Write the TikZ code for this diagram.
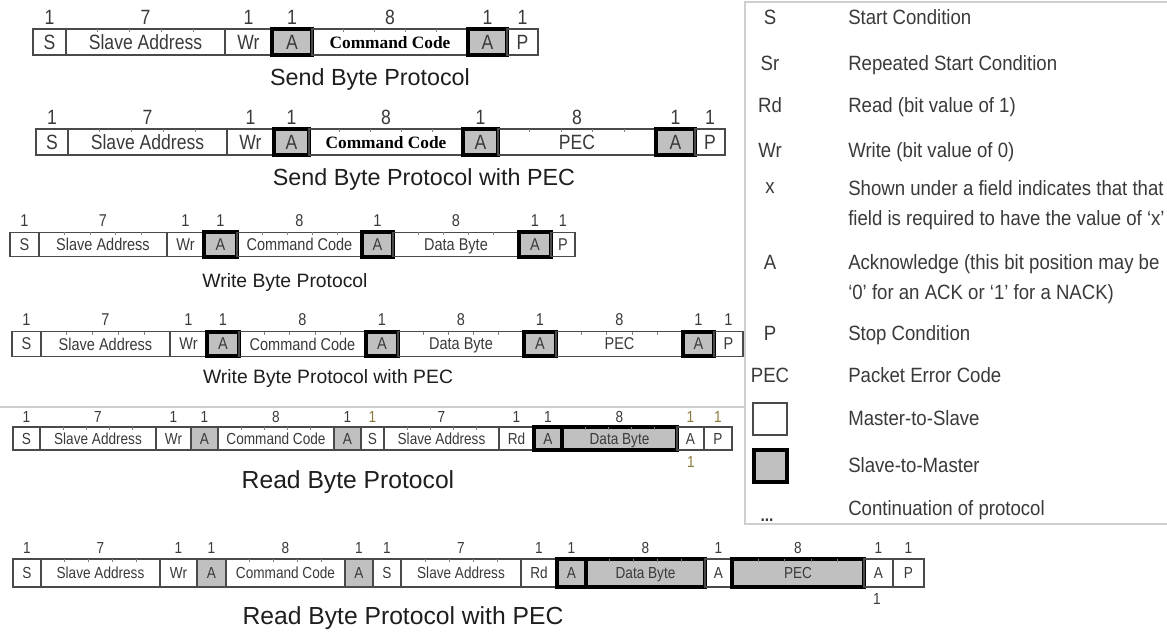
\documentclass[tikz,border=0pt]{standalone}
\usepackage{fontspec}
\setmainfont{Liberation Serif}
\setsansfont{Liberation Sans}
\newfontfamily\narrowsf[FakeStretch=0.85]{Liberation Sans}
\newfontfamily\legendsf[FakeStretch=0.9]{Liberation Sans}
\usepackage{tikz}
\usetikzlibrary{fit}
\definecolor{rule}{HTML}{4A4A4A}
\definecolor{inkdark}{HTML}{3A3A3A}
\definecolor{titleink}{HTML}{1E1E1E}
\definecolor{cellgray}{HTML}{C0C0C0}
\definecolor{olivenum}{HTML}{8C7A3C}
\definecolor{framegray}{HTML}{CFCFCF}
\newcommand\cellbig{\narrowsf\fontsize{15.5}{18}\selectfont}
\newcommand\cellmid{\narrowsf\fontsize{12.8}{15}\selectfont}
\newcommand\cellsmall{\narrowsf\fontsize{12}{14}\selectfont}
\tikzset{
  cell/.style={draw=rule, line width=0.9pt, inner sep=0pt, text=inkdark, text depth=0pt},
  ackcell/.style={cell, fill=cellgray, draw=black, line width=2.7pt},
  shadecell/.style={cell, fill=cellgray},
  cmdcell/.style={cell, text=black, font=\rmfamily\bfseries\fontsize{13}{15}\selectfont},
  numlbl/.style={inner sep=0pt, text=inkdark, text depth=0pt},
  tickmark/.style={draw=rule!70, line width=0.5pt},
  rowtitle/.style={inner sep=0pt, text=titleink, text depth=0pt,
    font=\sffamily\fontsize{#1}{#1}\selectfont},
  legsym/.style={inner sep=0pt, text=inkdark, text depth=0pt,
    font=\legendsf\fontsize{15.5}{18}\selectfont},
  legtext/.style={legsym, anchor=west},
  keyms/.style={draw=rule, line width=1.3pt, inner sep=0pt},
  keysm/.style={draw=black, fill=cellgray, line width=2.8pt, inner sep=0pt},
}
\begin{document}
\begin{tikzpicture}[x=0.75pt, y=-0.75pt]
  \useasboundingbox (0,0) rectangle (1167,635);
  \fill[white] (0,0) rectangle (1167,635);
  \draw[framegray, line width=0.8pt] (0,407) -- (745,407);
  \draw[framegray, line width=0.8pt] (1167,2) -- (745,2) -- (745,524) -- (1167,524);

  \begin{scope}[nodes={font=\cellbig, minimum height=19.5pt}]
  \foreach \xa/\xb/\txt/\nb/\sty [count=\i] in {33/66/S/1/cell, 66/225/Slave Address/7/cell,
      225/272/Wr/1/cell, 272/312/A/1/ackcell, 312/468/Command Code/8/cmdcell,
      468/507/A/1/ackcell, 507/538/P/1/cell}{
    \pgfmathsetmacro\cw{(\xb-\xa)*0.75}
    \node[\sty, minimum width=\cw pt] (sb\i) at ({(\xa+\xb)/2},42) {\txt};
    \node[numlbl, minimum height=0pt] (sbn\i) at ({(\xa+\xb)/2},17) {\nb};
    \ifnum\nb>1 \foreach \k in {1,...,4} \draw[tickmark] ({\xa+\k*(\xb-\xa)/5},29) -- ++(0,3); \fi
  }
  \node[rowtitle=17.5, minimum height=0pt] (sbt) at (370,77) {Send Byte Protocol};

  \foreach \xa/\xb/\txt/\nb/\sty [count=\i] in {36/68/S/1/cell, 68/227/Slave Address/7/cell,
      227/274/Wr/1/cell, 274/309/A/1/ackcell, 309/463/Command Code/8/cmdcell,
      463/498/A/1/ackcell, 498/656/PEC/8/cell, 656/695/A/1/ackcell, 695/725/P/1/cell}{
    \pgfmathsetmacro\cw{(\xb-\xa)*0.75}
    \node[\sty, minimum width=\cw pt] (sbp\i) at ({(\xa+\xb)/2},142) {\txt};
    \node[numlbl, minimum height=0pt] (sbpn\i) at ({(\xa+\xb)/2},117) {\nb};
    \ifnum\nb>1 \foreach \k in {1,...,4} \draw[tickmark] ({\xa+\k*(\xb-\xa)/5},129) -- ++(0,3); \fi
  }
  \node[rowtitle=17.5, minimum height=0pt] (sbpt) at (424,177) {Send Byte Protocol with PEC};
  \end{scope}

  \begin{scope}[nodes={font=\cellmid, minimum height=18.4pt}]
  \foreach \xa/\xb/\txt/\nb/\sty [count=\i] in {10/39/S/1/cell, 39/167/Slave Address/7/cell,
      167/204/Wr/1/cell, 204/237/A/1/ackcell, 237/362/Command Code/8/cell,
      362/393/A/1/ackcell, 393/519/Data Byte/8/cell, 519/551/A/1/ackcell, 551/575/P/1/cell}{
    \pgfmathsetmacro\cw{(\xb-\xa)*0.75}
    \node[\sty, minimum width=\cw pt] (wb\i) at ({(\xa+\xb)/2},244.5) {\txt};
    \node[numlbl, minimum height=0pt] (wbn\i) at ({(\xa+\xb)/2},221) {\nb};
    \ifnum\nb>1 \foreach \k in {1,...,4} \draw[tickmark] ({\xa+\k*(\xb-\xa)/5},232) -- ++(0,3); \fi
  }
  \node[rowtitle=14.5, minimum height=0pt] (wbt) at (285,280) {Write Byte Protocol};

  \foreach \xa/\xb/\txt/\nb/\sty [count=\i] in {12/41/S/1/cell, 41/170/Slave Address/7/cell,
      170/207/Wr/1/cell, 207/239/A/1/ackcell, 239/366/Command Code/8/cell,
      366/398/A/1/ackcell, 398/524/Data Byte/8/cell, 524/556/A/1/ackcell,
      556/683/PEC/8/cell, 683/714/A/1/ackcell, 714/743/P/1/cell}{
    \pgfmathsetmacro\cw{(\xb-\xa)*0.75}
    \node[\sty, minimum width=\cw pt] (wbp\i) at ({(\xa+\xb)/2},344) {\txt};
    \node[numlbl, minimum height=0pt] (wbpn\i) at ({(\xa+\xb)/2},320) {\nb};
    \ifnum\nb>1 \foreach \k in {1,...,4} \draw[tickmark] ({\xa+\k*(\xb-\xa)/5},332) -- ++(0,3); \fi
  }
  \node[rowtitle=14.5, minimum height=0pt] (wbpt) at (328,376) {Write Byte Protocol with PEC};
  \end{scope}

  \begin{scope}[nodes={font=\cellsmall, minimum height=17.3pt}]
  \foreach \xa/\xb/\txt/\nb/\sty/\nc [count=\i] in {13/40/S/1/cell/inkdark,
      40/156/Slave Address/7/cell/inkdark, 156/191/Wr/1/cell/inkdark, 191/218/A/1/shadecell/inkdark,
      218/334/Command Code/8/cell/inkdark, 334/361/A/1/shadecell/inkdark, 361/384/S/1/cell/olivenum,
      384/499/Slave Address/7/cell/inkdark, 499/534/Rd/1/cell/inkdark, 534/562/A/1/ackcell/inkdark,
      562/677/Data Byte/8/ackcell/inkdark, 677/704/A/1/cell/olivenum, 704/732/P/1/cell/olivenum}{
    \pgfmathsetmacro\cw{(\xb-\xa)*0.75}
    \node[\sty, minimum width=\cw pt] (rb\i) at ({(\xa+\xb)/2},438.5) {\txt};
    \node[numlbl, minimum height=0pt, text=\nc] (rbn\i) at ({(\xa+\xb)/2},417) {\nb};
    \ifnum\nb>1 \foreach \k in {1,...,4} \draw[tickmark] ({\xa+\k*(\xb-\xa)/5},427) -- ++(0,3); \fi
  }
  \node[numlbl, minimum height=0pt, text=olivenum] (rbu) at (691,462) {1};
  \node[rowtitle=18.5, minimum height=0pt] (rbt) at (348,480) {Read Byte Protocol};
  \end{scope}

  \begin{scope}[nodes={font=\cellsmall, minimum height=21pt}]
  \foreach \xa/\xb/\txt/\nb/\sty [count=\i] in {13/41/S/1/cell, 41/160/Slave Address/7/cell,
      160/197/Wr/1/cell, 197/226/A/1/shadecell, 226/345/Command Code/8/cell,
      345/373/A/1/shadecell, 373/401/S/1/cell, 401/521/Slave Address/7/cell, 521/557/Rd/1/cell,
      557/586/A/1/ackcell, 586/705/Data Byte/8/ackcell, 705/732/A/1/cell,
      732/864/PEC/8/ackcell, 864/893/A/1/cell, 893/924/P/1/cell}{
    \pgfmathsetmacro\cw{(\xb-\xa)*0.75}
    \node[\sty, minimum width=\cw pt] (rbp\i) at ({(\xa+\xb)/2},573) {\txt};
    \node[numlbl, minimum height=0pt] (rbpn\i) at ({(\xa+\xb)/2},548) {\nb};
    \ifnum\nb>1 \foreach \k in {1,...,4} \draw[tickmark] ({\xa+\k*(\xb-\xa)/5},559) -- ++(0,3); \fi
  }
  \node[numlbl, minimum height=0pt] (rbpu) at (877,599) {1};
  \node[rowtitle=18.5, minimum height=0pt] (rbpt) at (403,616) {Read Byte Protocol with PEC};
  \end{scope}

  \foreach \sym/\desc/\yy [count=\i] in {S/Start Condition/17, Sr/Repeated Start Condition/63,
      Rd/Read (bit value of 1)/105, Wr/Write (bit value of 0)/150,
      x/Shown under a field indicates that that/188, A/Acknowledge (this bit position may be/262,
      P/Stop Condition/333, PEC/Packet Error Code/375}{
    \node[legsym] (lgs\i) at (770,\yy) {\sym};
    \node[legtext] (lgt\i) at (848,\yy) {\desc};
  }
  \node[legtext] (lgx2) at (848,218) {field is required to have the value of ‘x’};
  \node[legtext] (lga2) at (848,292) {‘0’ for an ACK or ‘1’ for a NACK)};
  \node[keyms, fit={(753,403) (787,435)}] (lgmsbox) {};
  \node[legtext] (lgms) at (848,418) {Master-to-Slave};
  \node[keysm, fit={(754,450) (787,482)}] (lgsmbox) {};
  \node[legtext] (lgsm) at (848,465) {Slave-to-Master};
  \node[inner sep=0pt, anchor=base, text=inkdark, font=\legendsf\bfseries\fontsize{13}{14}\selectfont] (lgdots) at (767,521) {...};
  \node[legtext] (lgcont) at (848,508) {Continuation of protocol};
\end{tikzpicture}
\end{document}
